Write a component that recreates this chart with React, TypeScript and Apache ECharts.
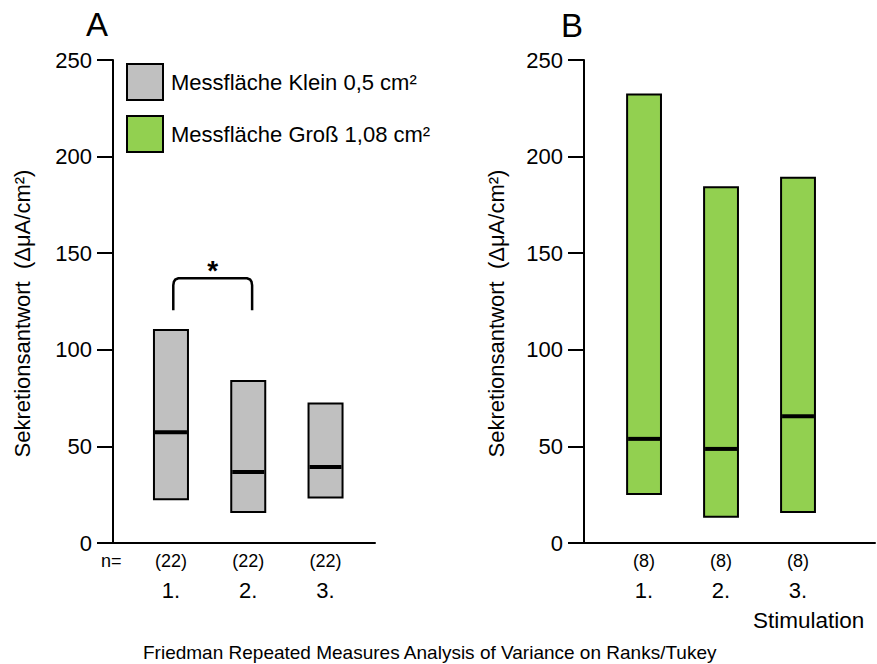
import React, { useEffect, useRef } from "react";
import * as echarts from "echarts";

// Stimulation rounds and sample sizes
const categories = ["1.", "2.", "3."];
const nKlein = [22, 22, 22];
const nGross = [8, 8, 8];

// Small measuring area (0.5 cm²): range and median per stimulation
const kleinLow = [22.7, 16.0, 23.6];
const kleinHigh = [110.3, 83.8, 72.2];
const kleinMedian = [57.3, 36.7, 39.4];

// Large measuring area (1.08 cm²): range and median per stimulation
const grossLow = [25.3, 13.6, 16.0];
const grossHigh = [232.1, 184.2, 189.0];
const grossMedian = [53.9, 48.7, 65.6];

// Significance bracket between stimulation 1 and 2 (small area)
const sigFrom = [1.03];
const sigTo = [2.05];
const sigBase = [120.5];
const sigTop = [137];
const sigMark = ["*"];

const yTicks = [0, 50, 100, 150, 200, 250];

const seriesNames = ["Messfläche Klein 0,5 cm²", "Messfläche Groß 1,08 cm²"];
const GRAY = "#c0c0c0";
const GREEN = "#92d050";
const FONT = "Liberation Sans, Arial, sans-serif";
const yTitle = "Sekretionsantwort  (ΔμA/cm²)";

function rangeRenderer(fill: string, counts: number[]) {
  return (params: any, api: any) => {
    const x = api.value(0);
    const low = api.value(1);
    const high = api.value(2);
    const med = api.value(3);
    const i = params.dataIndex;
    const w = api.size([0.44, 0])[0];
    const pTop = api.coord([x, high]);
    const pLow = api.coord([x, low]);
    const pMed = api.coord([x, med]);
    const pAxis = api.coord([x, 0]);
    return {
      type: "group",
      children: [
        {
          type: "rect",
          shape: { x: pTop[0] - w / 2, y: pTop[1], width: w, height: pLow[1] - pTop[1] },
          style: { fill, stroke: "#000", lineWidth: 2 },
        },
        {
          type: "line",
          shape: { x1: pMed[0] - w / 2 + 1, y1: pMed[1], x2: pMed[0] + w / 2 - 1, y2: pMed[1] },
          style: { stroke: "#000", lineWidth: 4 },
        },
        {
          type: "text",
          style: {
            x: pAxis[0],
            y: pAxis[1] + 18,
            text: "(" + counts[i] + ")",
            fontSize: 18,
            fontFamily: FONT,
            fill: "#000",
            align: "center",
            verticalAlign: "middle",
          },
        },
        {
          type: "text",
          style: {
            x: pAxis[0],
            y: pAxis[1] + 47,
            text: categories[i],
            fontSize: 22,
            fontFamily: FONT,
            fill: "#000",
            align: "center",
            verticalAlign: "middle",
          },
        },
      ],
    };
  };
}

function bracketRenderer(params: any, api: any) {
  const i = params.dataIndex;
  const a = api.coord([api.value(0), api.value(2)]);
  const b = api.coord([api.value(1), api.value(3)]);
  const x1 = a[0];
  const x2 = b[0];
  const yb = a[1];
  const yt = b[1];
  return {
    type: "group",
    children: [
      {
        type: "polyline",
        shape: {
          points: [
            [x1, yb],
            [x1, yt + 7],
            [x1 + 0.6, yt + 3.5],
            [x1 + 2, yt + 1.2],
            [x1 + 5, yt],
            [x2 - 5, yt],
            [x2 - 2, yt + 1.2],
            [x2 - 0.6, yt + 3.5],
            [x2, yt + 7],
            [x2, yb],
          ],
        },
        style: { stroke: "#000", lineWidth: 2.5, fill: null },
      },
      {
        type: "text",
        style: {
          x: (x1 + x2) / 2,
          y: yt - 8,
          text: sigMark[i],
          fontSize: 28,
          fontWeight: "bold",
          fontFamily: FONT,
          fill: "#000",
          align: "center",
          verticalAlign: "middle",
        },
      },
    ],
  };
}

function yAxisFor(gridIndex: number, nameGap: number) {
  return {
    type: "value",
    gridIndex,
    min: 0,
    max: 250,
    interval: 50,
    name: yTitle,
    nameLocation: "middle",
    nameRotate: 90,
    nameGap,
    nameTextStyle: {
      fontSize: 22,
      fontFamily: FONT,
      color: "#000",
      padding: [0, 24, 0, 0],
    },
    axisLine: { show: true, lineStyle: { color: "#000", width: 2 } },
    axisTick: { show: true, length: 16, lineStyle: { color: "#000", width: 2 } },
    axisLabel: {
      margin: 21,
      fontSize: 22,
      fontFamily: FONT,
      color: "#000",
      formatter: (v: number) => (yTicks.includes(v) ? String(v) : ""),
    },
    splitLine: { show: false },
  };
}

function xAxisFor(gridIndex: number, min: number, max: number) {
  return {
    type: "value",
    gridIndex,
    min,
    max,
    axisLine: { show: true, onZero: false, lineStyle: { color: "#000", width: 2 } },
    axisTick: { show: false },
    axisLabel: { show: false },
    splitLine: { show: false },
  };
}

export default function App() {
  const ref = useRef<HTMLDivElement>(null);

  useEffect(() => {
    if (!ref.current) return;
    const chart = echarts.init(ref.current, null, { renderer: "svg" });

    const kleinData = categories.map((_, i) => [i + 1, kleinLow[i], kleinHigh[i], kleinMedian[i]]);
    const grossData = categories.map((_, i) => [i + 1, grossLow[i], grossHigh[i], grossMedian[i]]);
    const sigData = sigFrom.map((f, i) => [f, sigTo[i], sigBase[i], sigTop[i]]);

    chart.setOption({
      animation: false,
      backgroundColor: "#fff",
      textStyle: { fontFamily: FONT },
      grid: [
        { left: 113, top: 60, width: 262, height: 483 },
        { left: 584, top: 60, width: 291, height: 483 },
      ],
      xAxis: [xAxisFor(0, 0.25, 3.64), xAxisFor(1, 0.22, 4.0)],
      yAxis: [yAxisFor(0, 80), yAxisFor(1, 77)],
      legend: {
        orient: "vertical",
        left: 126,
        top: 63,
        padding: 0,
        itemGap: 14,
        itemWidth: 36,
        itemHeight: 36,
        icon: "rect",
        selectedMode: false,
        textStyle: { fontSize: 22, fontFamily: FONT, color: "#000", padding: [0, 0, 0, 3] },
        data: [
          { name: seriesNames[0], itemStyle: { color: GRAY, borderColor: "#000", borderWidth: 2 } },
          { name: seriesNames[1], itemStyle: { color: GREEN, borderColor: "#000", borderWidth: 2 } },
        ],
      },
      graphic: [
        {
          type: "text",
          left: 86,
          top: 8,
          style: { text: "A", fontSize: 33, fontFamily: FONT, fill: "#000" },
        },
        {
          type: "text",
          left: 561,
          top: 9,
          style: { text: "B", fontSize: 33, fontFamily: FONT, fill: "#000" },
        },
        {
          type: "text",
          left: 101,
          top: 552,
          style: { text: "n=", fontSize: 18, fontFamily: FONT, fill: "#000" },
        },
        {
          type: "text",
          left: 753,
          top: 609,
          style: { text: "Stimulation", fontSize: 22.5, fontFamily: FONT, fill: "#000" },
        },
        {
          type: "text",
          left: 143,
          top: 643,
          style: {
            text: "Friedman Repeated Measures Analysis of Variance on Ranks/Tukey",
            fontSize: 19,
            fontFamily: FONT,
            fill: "#000",
          },
        },
      ],
      series: [
        {
          name: seriesNames[0],
          type: "custom",
          xAxisIndex: 0,
          yAxisIndex: 0,
          clip: false,
          itemStyle: { color: GRAY, borderColor: "#000", borderWidth: 2 },
          encode: { x: 0, y: [1, 2, 3] },
          renderItem: rangeRenderer(GRAY, nKlein),
          data: kleinData,
        },
        {
          name: seriesNames[1],
          type: "custom",
          xAxisIndex: 1,
          yAxisIndex: 1,
          clip: false,
          itemStyle: { color: GREEN, borderColor: "#000", borderWidth: 2 },
          encode: { x: 0, y: [1, 2, 3] },
          renderItem: rangeRenderer(GREEN, nGross),
          data: grossData,
        },
        {
          name: "sig",
          type: "custom",
          xAxisIndex: 0,
          yAxisIndex: 0,
          clip: false,
          encode: { x: [0, 1], y: [2, 3] },
          renderItem: bracketRenderer,
          data: sigData,
        },
      ],
    });

    return () => chart.dispose();
  }, []);

  return (
    <div
      ref={ref}
      style={{ position: "fixed", left: 0, top: 0, width: 877, height: 664, background: "#fff" }}
    />
  );
}
